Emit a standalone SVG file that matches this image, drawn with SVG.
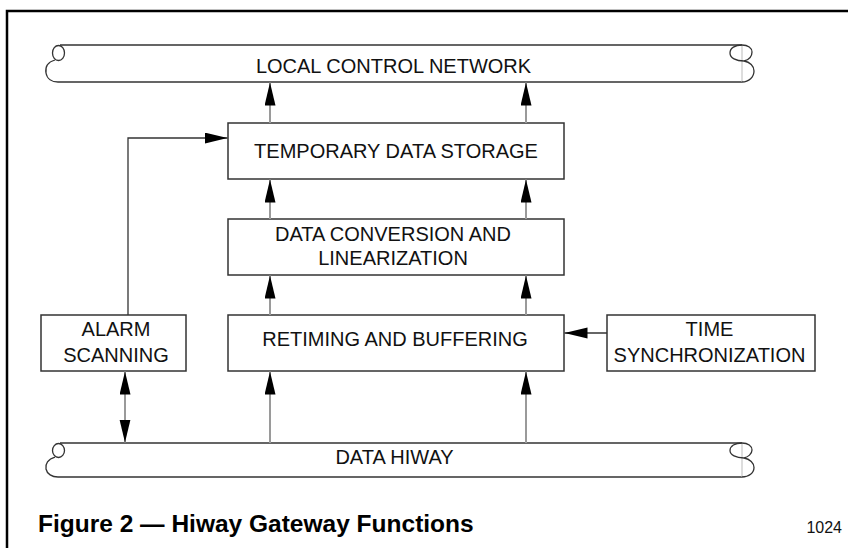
<svg xmlns="http://www.w3.org/2000/svg" width="848" height="548" viewBox="0 0 848 548">
<style>
.box{fill:#fff;stroke:#333;stroke-width:1.5}
.lbl{font-family:"Liberation Sans",Arial,sans-serif;font-size:20px;fill:#111;text-anchor:middle}
.pipe{fill:none;stroke:#333;stroke-width:1.3}
.end{fill:none;stroke:#bbb;stroke-width:1}
.g{stroke:#9a9a9a;stroke-width:2;fill:none}
.d{stroke:#333;stroke-width:1.3;fill:none}
</style>
<defs>
<marker id="ah" markerUnits="userSpaceOnUse" markerWidth="24" markerHeight="12" refX="23" refY="5.5" orient="auto-start-reverse">
<path d="M0,0 L23,5.5 L0,11 Z" fill="#000"/>
</marker>
</defs>
<rect width="848" height="548" fill="#fff"/>
<path d="M7,548 V11 H848" fill="none" stroke="#000" stroke-width="2.5"/>

<g id="lcn">
<path class="pipe" d="M60,45 H742 M58,82 H742"/>
<ellipse class="pipe" cx="58.5" cy="53" rx="6" ry="7.5"/>
<path class="pipe" d="M55,60 C48,62 45,67 46,73 C47,79 52,82 58,82"/>
<line class="end" x1="742" y1="45" x2="742" y2="82"/>
<path class="pipe" d="M742,45 C735,45 730,48 730,53 C730,58 736,61 744,61 M742,45 C748,45 752,48 752,52 C752,57 748,60 744,61 C750,62 754,66 754,71 C754,77 749,82 742,82"/>
<text class="lbl" x="393.5" y="72.5">LOCAL CONTROL NETWORK</text>
</g>

<g id="hiway">
<path class="pipe" d="M60,443 H742 M58,477 H742"/>
<ellipse class="pipe" cx="58.5" cy="450.5" rx="6" ry="7"/>
<path class="pipe" d="M55,457 C48,459 45,464 46,469 C47,474 52,477 58,477"/>
<line class="end" x1="742" y1="443" x2="742" y2="477"/>
<path class="pipe" d="M742,443 C735,443 730,446 730,450.5 C730,455 736,458 744,458 M742,443 C748,443 752,446 752,450 C752,454 748,457 744,458 C750,459 754,463 754,467.5 C754,473 749,477 742,477"/>
<text class="lbl" x="394.5" y="464">DATA HIWAY</text>
</g>

<g id="tds">
<rect class="box" x="228" y="123" width="336" height="56"/>
<text class="lbl" x="396" y="157.5">TEMPORARY DATA STORAGE</text>
</g>

<g id="dcl">
<rect class="box" x="228" y="219" width="336" height="56"/>
<text class="lbl" x="393" y="241">DATA CONVERSION AND</text>
<text class="lbl" x="393" y="265">LINEARIZATION</text>
</g>

<g id="rtb">
<rect class="box" x="228" y="315" width="336" height="56"/>
<text class="lbl" x="395" y="346">RETIMING AND BUFFERING</text>
</g>

<g id="alarm">
<rect class="box" x="41" y="315" width="145" height="56"/>
<text class="lbl" x="116" y="336">ALARM</text>
<text class="lbl" x="116" y="362">SCANNING</text>
</g>

<g id="tsync">
<rect class="box" x="607" y="315" width="208" height="56"/>
<text class="lbl" x="709.5" y="336">TIME</text>
<text class="lbl" x="709.5" y="362">SYNCHRONIZATION</text>
</g>

<g id="connectors">
<line class="g" x1="270" y1="123" x2="270" y2="82.5" marker-end="url(#ah)"/>
<line class="g" x1="526" y1="123" x2="526" y2="82.5" marker-end="url(#ah)"/>
<line class="g" x1="270" y1="219" x2="270" y2="179.5" marker-end="url(#ah)"/>
<line class="g" x1="526" y1="219" x2="526" y2="179.5" marker-end="url(#ah)"/>
<line class="g" x1="270" y1="315" x2="270" y2="275.5" marker-end="url(#ah)"/>
<line class="g" x1="526" y1="315" x2="526" y2="275.5" marker-end="url(#ah)"/>
<line class="g" x1="270" y1="443" x2="270" y2="371.5" marker-end="url(#ah)"/>
<line class="g" x1="526" y1="443" x2="526" y2="371.5" marker-end="url(#ah)"/>
<path class="g" d="M125,371.5 V442.5" marker-start="url(#ah)" marker-end="url(#ah)"/>
<path class="d" d="M128,315 V138 H227.5" marker-end="url(#ah)"/>
<path class="d" d="M607,333 H564.5" marker-end="url(#ah)"/>
</g>

<text x="38" y="532" font-family="Liberation Sans, Arial, sans-serif" font-weight="bold" font-size="24.5" fill="#000">Figure 2 — Hiway Gateway Functions</text>
<text x="842" y="533" font-family="Liberation Sans, Arial, sans-serif" font-size="16" fill="#111" text-anchor="end">1024</text>
</svg>
